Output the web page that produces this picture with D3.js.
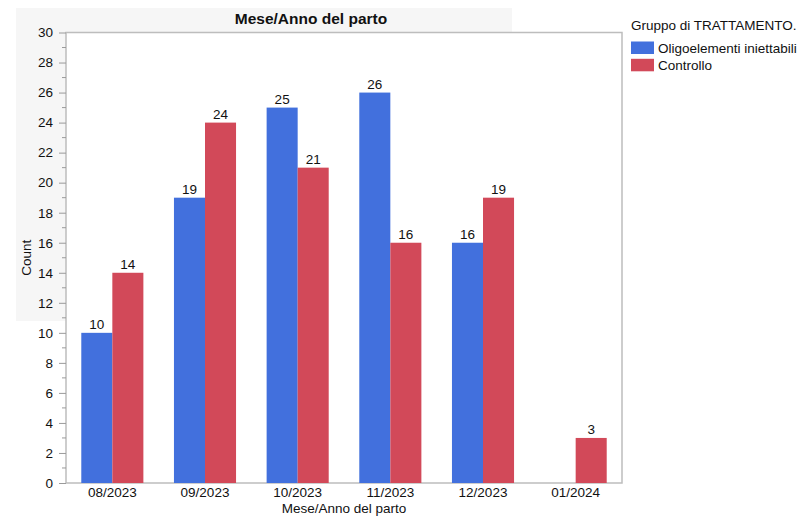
<!DOCTYPE html>
<html>
<head>
<meta charset="utf-8">
<script src="https://cdn.jsdelivr.net/npm/d3@7"></script>
<style>
  html, body { margin: 0; padding: 0; background: #fff; }
  svg { display: block; font-family: "Liberation Sans", Arial, Helvetica, sans-serif; }
</style>
</head>
<body>
<svg id="chart" width="801" height="516"></svg>
<script>
// Births per month/year, split by treatment group
const categories = ["08/2023", "09/2023", "10/2023", "11/2023", "12/2023", "01/2024"];
const seriesNames = ["Oligoelementi iniettabili", "Controllo"];
const oligoelementi = [10, 19, 25, 26, 16, 0];
const controllo = [14, 24, 21, 16, 19, 3];
const yTicks = [0, 2, 4, 6, 8, 10, 12, 14, 16, 18, 20, 22, 24, 26, 28, 30];
const colors = ["#4270dd", "#d24959"];

const svg = d3.select("#chart");
const margin = { left: 66, right: 622, top: 32.5, bottom: 483 };
const fs = 13.5;

// light panel behind the title and upper part
svg.append("rect")
  .attr("x", 16).attr("y", 8).attr("width", 496).attr("height", 313)
  .attr("fill", "#f6f6f6");

const x = d3.scaleBand().domain(categories)
  .range([margin.left, margin.right])
  .paddingInner(0.33).paddingOuter(0.165);
const xs = d3.scaleBand().domain(seriesNames).range([0, x.bandwidth()]);
const y = d3.scaleLinear().domain([0, 30]).range([margin.bottom, margin.top]);

// plot background and frame
svg.append("rect")
  .attr("x", margin.left).attr("y", margin.top)
  .attr("width", margin.right - margin.left).attr("height", margin.bottom - margin.top)
  .attr("fill", "#fff").attr("stroke", "#bdbdbd").attr("stroke-width", 1.5);

// bars
const rows = categories.map((c, i) => ({ cat: c, vals: [oligoelementi[i], controllo[i]] }));
const groups = svg.append("g").selectAll("g").data(rows).join("g")
  .attr("transform", d => `translate(${x(d.cat)},0)`);

groups.selectAll("rect")
  .data(d => d.vals.map((v, k) => ({ v, k })).filter(e => e.v > 0))
  .join("rect")
  .attr("x", e => xs(seriesNames[e.k]))
  .attr("width", xs.bandwidth())
  .attr("y", e => y(e.v))
  .attr("height", e => y(0) - y(e.v))
  .attr("fill", e => colors[e.k]);

groups.selectAll("text")
  .data(d => d.vals.map((v, k) => ({ v, k })).filter(e => e.v > 0))
  .join("text")
  .attr("x", e => xs(seriesNames[e.k]) + xs.bandwidth() / 2)
  .attr("y", e => y(e.v) - 4)
  .attr("text-anchor", "middle")
  .attr("font-size", fs)
  .attr("fill", "#111")
  .text(e => e.v);

// y axis
const yAxis = d3.axisLeft(y).tickValues(yTicks).tickSize(7).tickSizeOuter(0).tickPadding(6);
const yg = svg.append("g").attr("transform", `translate(${margin.left},0)`).call(yAxis);
yg.select(".domain").remove();
yg.selectAll(".tick line").attr("stroke", "#9a9a9a");
yg.selectAll(".tick text").attr("font-size", fs).attr("fill", "#111")
  .attr("font-family", "Liberation Sans, Arial, sans-serif");

// minor ticks at odd values
const minor = d3.range(1, 30, 2);
svg.append("g").selectAll("line").data(minor).join("line")
  .attr("x1", margin.left - 4).attr("x2", margin.left)
  .attr("y1", d => y(d)).attr("y2", d => y(d))
  .attr("stroke", "#9a9a9a");

// x axis
const xAxis = d3.axisBottom(x).tickSize(0).tickPadding(4);
const xg = svg.append("g").attr("transform", `translate(0,${margin.bottom})`).call(xAxis);
xg.select(".domain").remove();
xg.selectAll(".tick text").attr("font-size", fs).attr("fill", "#111")
  .attr("font-family", "Liberation Sans, Arial, sans-serif");

// titles
svg.append("text")
  .attr("x", 311).attr("y", 24)
  .attr("text-anchor", "middle")
  .attr("font-size", 15.5).attr("font-weight", "bold").attr("fill", "#111")
  .text("Mese/Anno del parto");

svg.append("text")
  .attr("x", (margin.left + margin.right) / 2).attr("y", 513)
  .attr("text-anchor", "middle")
  .attr("font-size", fs).attr("fill", "#111")
  .text("Mese/Anno del parto");

svg.append("text")
  .attr("transform", `translate(31,${(margin.top + margin.bottom) / 2}) rotate(-90)`)
  .attr("text-anchor", "middle")
  .attr("font-size", fs).attr("fill", "#111")
  .text("Count");

// legend
const legend = svg.append("g").attr("transform", "translate(631,0)");
legend.append("text")
  .attr("x", 0).attr("y", 30)
  .attr("font-size", fs).attr("fill", "#111")
  .text("Gruppo di TRATTAMENTO.");
seriesNames.forEach((name, k) => {
  legend.append("rect")
    .attr("x", 0).attr("y", 41.5 + k * 17.3)
    .attr("width", 23).attr("height", 12.5)
    .attr("fill", colors[k]);
  legend.append("text")
    .attr("x", 27).attr("y", 52.5 + k * 17.3)
    .attr("font-size", fs).attr("fill", "#111")
    .text(name);
});
</script>
</body>
</html>
